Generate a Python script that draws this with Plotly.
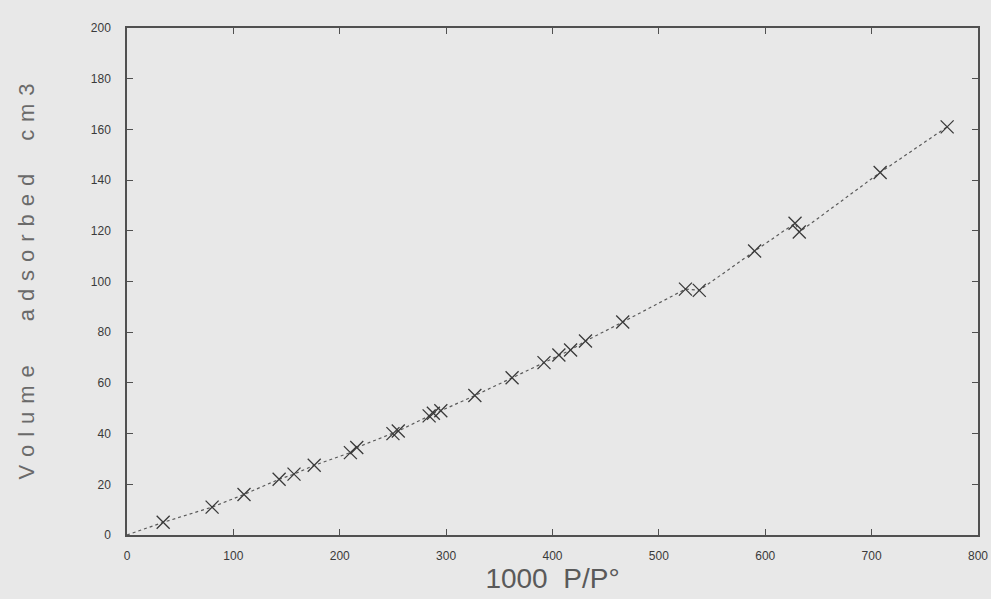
import plotly.graph_objects as go

# Measured points (1000 P/P°, volume adsorbed cm3)
x_pts = [34, 80, 110, 143, 157, 176, 210, 216, 250, 255, 284, 288, 295, 327, 362,
         392, 406, 417, 431, 466, 525, 538, 590, 628, 632, 708, 771]
y_pts = [5, 11, 16, 22, 24, 27.5, 32.5, 34.5, 40, 41, 47, 48, 49, 55, 62,
         68, 71, 73, 76.5, 84, 97, 96.5, 112, 123, 119.5, 143, 161]

# Dotted curve through the origin and the points
x_line = [0] + x_pts
y_line = [0] + y_pts

x_ticks = [0, 100, 200, 300, 400, 500, 600, 700, 800]
y_ticks = [0, 20, 40, 60, 80, 100, 120, 140, 160, 180, 200]

bg = "#e8e8e8"
ink = "#3a3a3a"

sp = " \u200a"
y_title = (sp.join("Volume") + "\u2003\u2003" + sp.join("adsorbed")
           + "\u2003\u2002" + sp.join("cm3"))

fig = go.Figure()
fig.add_trace(go.Scatter(x=x_line, y=y_line, mode="lines",
                         line=dict(color="#5a5a5a", width=1.2, dash="dot"),
                         showlegend=False, hoverinfo="skip"))
fig.add_trace(go.Scatter(x=x_pts, y=y_pts, mode="markers",
                         marker=dict(symbol="x-thin", size=13,
                                     line=dict(color=ink, width=1.3)),
                         showlegend=False))

axis_common = dict(showgrid=False, zeroline=False, showline=True, linecolor="#505050",
                   linewidth=1.5, mirror="ticks", ticks="inside", ticklen=6, automargin=False,
                   tickcolor="#505050", tickfont=dict(family="Liberation Sans, Arial", size=12, color=ink))

fig.update_xaxes(range=[0, 800], tickvals=x_ticks, ticktext=[str(v) for v in x_ticks],
                 ticklabelstandoff=9,
                 title=dict(text="1000  P/P°", font=dict(family="Liberation Sans, Arial", size=28, color="#5a5a5a"),
                            standoff=3),
                 **axis_common)
fig.update_yaxes(range=[0, 200], tickvals=y_ticks, ticktext=[str(v) for v in y_ticks],
                 ticklabelstandoff=12,
                 title=dict(text=y_title,
                            font=dict(family="Liberation Sans, Arial", size=22, color="#6a6a6a"),
                            standoff=50),
                 **axis_common)

fig.update_layout(width=991, height=599, paper_bgcolor=bg, plot_bgcolor=bg,
                  margin=dict(l=127, r=13, t=28, b=64))

fig.write_html("out.html", config={"displayModeBar": False},
               post_script="document.body.style.margin='0';document.body.style.background='#e8e8e8';")
